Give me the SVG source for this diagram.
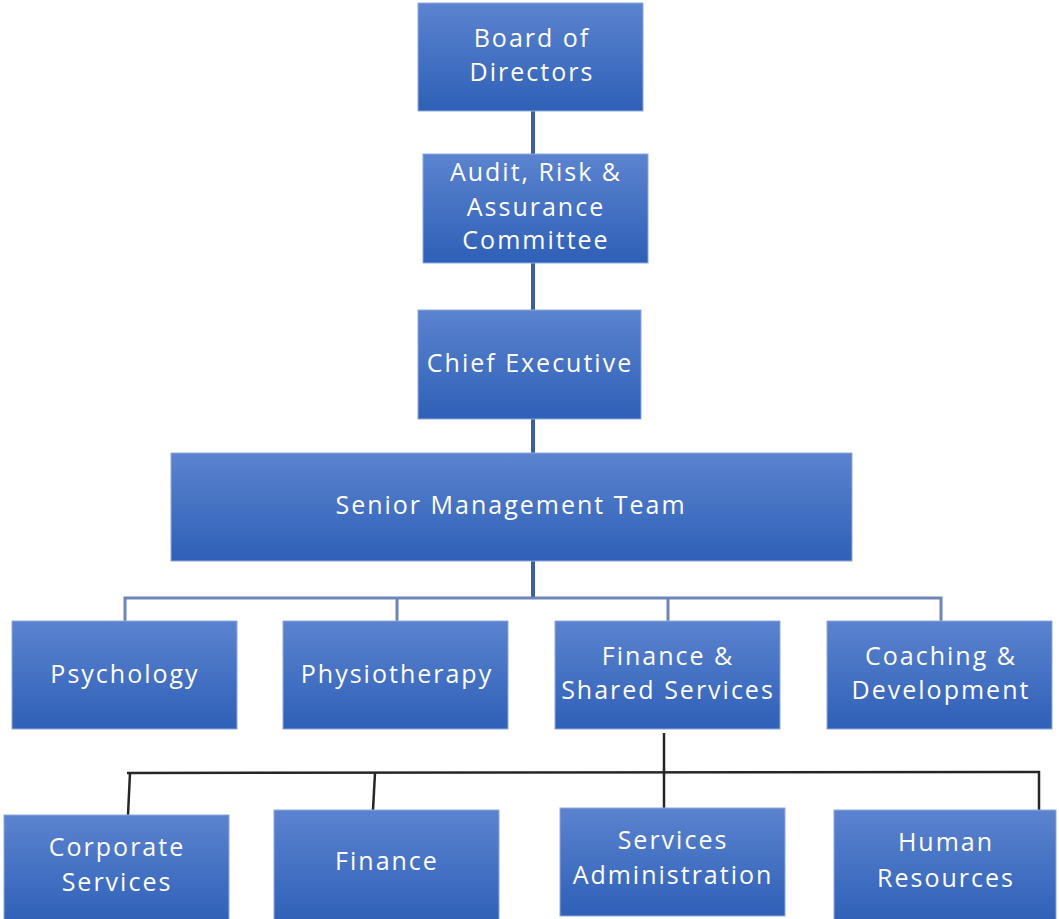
<svg xmlns="http://www.w3.org/2000/svg" width="1059" height="919" viewBox="0 0 1059 919">
  <defs>
    <linearGradient id="boxFill" x1="0" y1="0" x2="0" y2="1">
      <stop offset="0" stop-color="#5b83cf"/>
      <stop offset="1" stop-color="#2e60b7"/>
    </linearGradient>
    <style>
      .box { fill: url(#boxFill); stroke: #8fa9dc; stroke-width: 1; }
      .lbl { fill: #ffffff; font-family: "Open Sans", "Liberation Sans", sans-serif; font-size: 25px; font-weight: 500; letter-spacing: 2px; text-anchor: middle; }
      .trunk { stroke: #3f5f98; stroke-width: 4; fill: none; }
      .bus { stroke: #6d86b7; stroke-width: 3; fill: none; }
      .wire { stroke: #262626; stroke-width: 2.5; fill: none; }
    </style>
  </defs>
  <rect width="1059" height="919" fill="#ffffff"/>

  <!-- connectors -->
  <g id="connectors">
    <line class="trunk" x1="533" y1="110" x2="533" y2="155"/>
    <line class="trunk" x1="533" y1="262" x2="533" y2="311"/>
    <line class="trunk" x1="533" y1="418" x2="533" y2="454"/>
    <line class="trunk" x1="533" y1="560" x2="533" y2="599"/>
    <polyline class="bus" points="125,621 125,598 941,598 941,621"/>
    <line class="bus" x1="397" y1="598" x2="397" y2="621"/>
    <line class="bus" x1="668" y1="598" x2="668" y2="621"/>
    <line class="wire" x1="664" y1="733" x2="664" y2="808"/>
    <polyline class="wire" points="127,773 1039,772 1039,810"/>
    <line class="wire" x1="130" y1="773" x2="128" y2="815"/>
    <line class="wire" x1="375" y1="773" x2="373" y2="810"/>
  </g>

  <!-- labels are shifted right by 1px to offset the trailing letter-spacing -->
  <g id="board">
    <rect class="box" x="418" y="3" width="225" height="108"/>
    <text class="lbl" x="532" y="47">Board of</text>
    <text class="lbl" x="532" y="81">Directors</text>
  </g>
  <g id="audit">
    <rect class="box" x="423" y="154" width="225" height="109"/>
    <text class="lbl" x="536" y="181">Audit, Risk &amp;</text>
    <text class="lbl" x="536" y="216">Assurance</text>
    <text class="lbl" x="536" y="249">Committee</text>
  </g>
  <g id="chief">
    <rect class="box" x="418" y="310" width="223" height="109"/>
    <text class="lbl" x="530" y="372">Chief Executive</text>
  </g>
  <g id="smt">
    <rect class="box" x="171" y="453" width="681" height="108"/>
    <text class="lbl" x="511" y="514">Senior Management Team</text>
  </g>

  <g id="psychology">
    <rect class="box" x="12" y="621" width="225" height="108"/>
    <text class="lbl" x="125" y="683">Psychology</text>
  </g>
  <g id="physiotherapy">
    <rect class="box" x="283" y="621" width="225" height="108"/>
    <text class="lbl" x="397" y="683">Physiotherapy</text>
  </g>
  <g id="finance-shared">
    <rect class="box" x="555" y="621" width="225" height="108"/>
    <text class="lbl" x="668" y="665">Finance &amp;</text>
    <text class="lbl" x="668" y="699">Shared Services</text>
  </g>
  <g id="coaching">
    <rect class="box" x="827" y="621" width="225" height="108"/>
    <text class="lbl" x="941" y="665">Coaching &amp;</text>
    <text class="lbl" x="941" y="699">Development</text>
  </g>

  <g id="corporate">
    <rect class="box" x="4" y="815" width="225" height="110"/>
    <text class="lbl" x="117" y="856">Corporate</text>
    <text class="lbl" x="117" y="891">Services</text>
  </g>
  <g id="finance">
    <rect class="box" x="274" y="810" width="225" height="115"/>
    <text class="lbl" x="387" y="870">Finance</text>
  </g>
  <g id="services-admin">
    <rect class="box" x="560" y="808" width="225" height="108"/>
    <text class="lbl" x="673" y="849">Services</text>
    <text class="lbl" x="673" y="884">Administration</text>
  </g>
  <g id="hr">
    <rect class="box" x="834" y="810" width="222" height="115"/>
    <text class="lbl" x="946" y="851">Human</text>
    <text class="lbl" x="946" y="887">Resources</text>
  </g>
</svg>
